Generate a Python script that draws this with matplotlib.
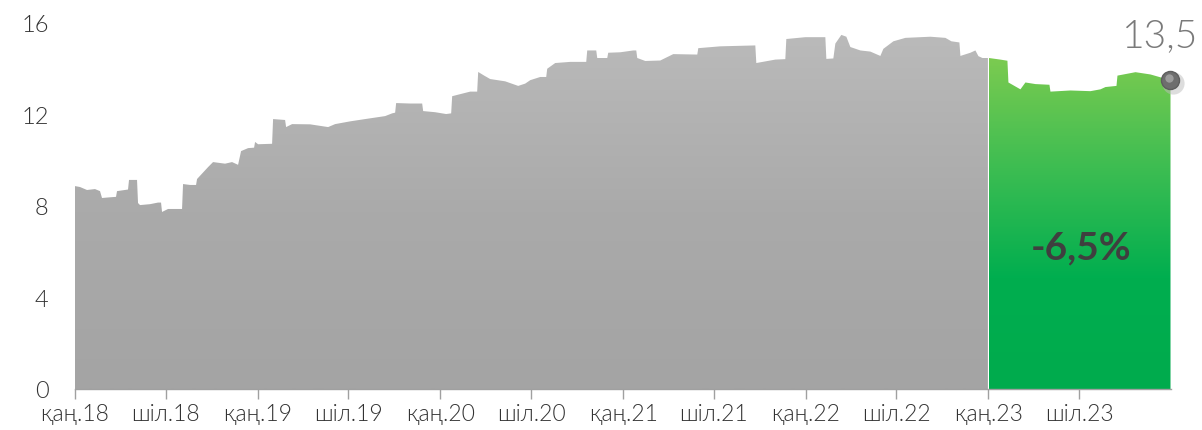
import numpy as np
import pandas as pd
import matplotlib
matplotlib.use("Agg")
import matplotlib.pyplot as plt
import matplotlib.dates as mdates
from matplotlib.colors import LinearSegmentedColormap
from matplotlib.transforms import offset_copy

# history up to end of 2022 (grey part)
dates_old = ['2018-01-01', '2018-01-11', '2018-01-25', '2018-02-10', '2018-02-20', '2018-02-24',
             '2018-03-12', '2018-03-24', '2018-03-26', '2018-04-17', '2018-04-19', '2018-05-05',
             '2018-05-07', '2018-05-11', '2018-05-31', '2018-06-16', '2018-06-22', '2018-06-24',
             '2018-07-06', '2018-08-03', '2018-08-05', '2018-08-19', '2018-08-31', '2018-09-02',
             '2018-09-24', '2018-10-04', '2018-10-28', '2018-11-11', '2018-11-23', '2018-11-29',
             '2018-12-13', '2018-12-25', '2018-12-27', '2019-01-02', '2019-01-30', '2019-02-01',
             '2019-02-25', '2019-02-27', '2019-03-11', '2019-04-16', '2019-05-22', '2019-06-05',
             '2019-07-05', '2019-08-04', '2019-09-13', '2019-09-27', '2019-10-03', '2019-10-05',
             '2019-11-02', '2019-11-26', '2019-11-28', '2019-12-22', '2020-01-13', '2020-01-23',
             '2020-01-25', '2020-03-01', '2020-03-15', '2020-03-17', '2020-03-29', '2020-04-10',
             '2020-05-10', '2020-06-05', '2020-06-19', '2020-06-29', '2020-07-19', '2020-07-31',
             '2020-08-02', '2020-08-18', '2020-09-17', '2020-10-19', '2020-10-21', '2020-11-08',
             '2020-11-10', '2020-11-30', '2020-12-02', '2020-12-26', '2021-01-21', '2021-01-27',
             '2021-01-29', '2021-02-14', '2021-03-16', '2021-04-11', '2021-05-29', '2021-05-31',
             '2021-07-14', '2021-09-22', '2021-09-24', '2021-11-01', '2021-11-21', '2021-11-23',
             '2021-12-31', '2022-02-09', '2022-02-11', '2022-02-25', '2022-03-01', '2022-03-13',
             '2022-03-23', '2022-03-31', '2022-04-20', '2022-05-10', '2022-05-30', '2022-06-05',
             '2022-06-25', '2022-07-19', '2022-09-07', '2022-10-07', '2022-10-19', '2022-11-04',
             '2022-11-06', '2022-11-26', '2022-12-06', '2022-12-12', '2022-12-20', '2022-12-31']
values_old = [8.87, 8.83, 8.70, 8.74, 8.65, 8.35,
              8.38, 8.40, 8.65, 8.72, 9.14, 9.14,
              8.13, 8.04, 8.08, 8.15, 8.15, 7.74,
              7.87, 7.87, 8.96, 8.92, 8.92, 9.18,
              9.70, 9.92, 9.85, 9.92, 9.80, 10.40,
              10.53, 10.55, 10.80, 10.70, 10.72, 11.80,
              11.76, 11.45, 11.58, 11.57, 11.45, 11.58,
              11.70, 11.80, 11.93, 12.05, 12.08, 12.50,
              12.48, 12.48, 12.15, 12.10, 12.02, 12.05,
              12.80, 13.00, 13.00, 13.86, 13.70, 13.55,
              13.45, 13.25, 13.35, 13.50, 13.64, 13.64,
              14.00, 14.25, 14.30, 14.30, 14.80, 14.80,
              14.47, 14.47, 14.70, 14.72, 14.80, 14.80,
              14.47, 14.34, 14.36, 14.64, 14.62, 14.90,
              14.98, 15.02, 14.25, 14.40, 14.42, 15.30,
              15.38, 15.38, 14.43, 14.45, 15.10, 15.48,
              15.40, 14.95, 14.80, 14.75, 14.56, 14.87,
              15.20, 15.35, 15.40, 15.35, 15.20, 15.15,
              14.56, 14.70, 14.80, 14.55, 14.47, 14.47]

# 2023 (green part)
dates_new = ['2023-01-02', '2023-01-25', '2023-02-08', '2023-02-10', '2023-02-18', '2023-03-06',
             '2023-03-16', '2023-04-05', '2023-05-03', '2023-05-05', '2023-06-14', '2023-07-24',
             '2023-08-13', '2023-08-23', '2023-09-14', '2023-09-16', '2023-10-22', '2023-11-21',
             '2023-12-15', '2023-12-31']
values_new = [14.47, 14.40, 14.35, 13.40, 13.30, 13.10,
              13.40, 13.33, 13.30, 13.00, 13.05, 13.02,
              13.10, 13.20, 13.25, 13.70, 13.85, 13.75,
              13.60, 13.50]

last_label = '13,5'
change_label = '-6,5%'

tick_dates = ['2018-01-01', '2018-07-01', '2019-01-01', '2019-07-01', '2020-01-01', '2020-07-01',
              '2021-01-01', '2021-07-01', '2022-01-01', '2022-07-01', '2023-01-01', '2023-07-01']
tick_labels = ['қаң.18', 'шіл.18', 'қаң.19', 'шіл.19', 'қаң.20', 'шіл.20',
               'қаң.21', 'шіл.21', 'қаң.22', 'шіл.22', 'қаң.23', 'шіл.23']

plt.rcParams['font.family'] = ['Lato', 'DejaVu Sans']

x_old = mdates.date2num(pd.to_datetime(dates_old))
x_new = mdates.date2num(pd.to_datetime(dates_new))
x_ticks = mdates.date2num(pd.to_datetime(tick_dates))
x_end = mdates.date2num(pd.Timestamp('2024-01-01'))

fig = plt.figure(figsize=(12.02, 4.31), dpi=100)
ax = fig.add_axes([75 / 1202, 41 / 431, (1171 - 75) / 1202, 366 / 431])

def gradient_fill(xs, ys, colors):
    # area with a vertical colour gradient clipped to it
    poly = ax.fill_between(xs, ys, 0, color='none', lw=0)
    cmap = LinearSegmentedColormap.from_list('g', colors)
    grad = np.linspace(0, 1, 256).reshape(-1, 1)
    im = ax.imshow(grad, cmap=cmap, aspect='auto', origin='upper',
                   extent=[xs[0], xs[-1], 0, max(ys)], zorder=1)
    im.set_clip_path(poly.get_paths()[0], transform=ax.transData)

gradient_fill(x_old, values_old, ['#bababa', '#aaaaaa', '#a4a4a4'])
gradient_fill(x_new, values_new, ['#7ccb50', '#3dbd52', '#00ae4f', '#00ab4d'])
ax.set_xlim(x_old[0], x_end)
ax.set_ylim(0, 16)

# end point ball
xe, ye = x_new[-1], values_new[-1]
ax.plot([xe], [ye], 'o', ms=16, color='#bdbdbd', alpha=0.5, zorder=3, mew=0,
        transform=offset_copy(ax.transData, fig=fig, x=1.5, y=-2.0, units='points'), clip_on=False)
ax.plot([xe], [ye], 'o', ms=13, color='#6e6e6e', mec='#5e5e5e', zorder=4, clip_on=False)
ax.plot([xe], [ye], 'o', ms=6, color='#a8a8a8', alpha=0.8, zorder=5, clip_on=False, mew=0,
        transform=offset_copy(ax.transData, fig=fig, x=-1.2, y=1.5, units='points'))

ax.annotate(last_label, (xe, ye), xytext=(20, 24.5), textcoords='offset points',
            ha='right', va='baseline', fontsize=28, color='#7a7a7a', fontweight=300,
            annotation_clip=False)
ax.text(mdates.date2num(pd.Timestamp('2023-07-05')), 6.2, change_label, ha='center', va='center',
        fontsize=28, fontweight='bold', color='#3f3f3f', zorder=6)

ax.set_yticks([0, 4, 8, 12, 16])
ax.set_xticks(x_ticks)
ax.set_xticklabels(tick_labels)
ax.tick_params(axis='y', length=0, pad=19, labelsize=17, labelcolor='#333333')
ax.tick_params(axis='x', length=7, width=1, color='#a0a0a0', pad=3, labelsize=16.5,
               labelcolor='#333333')
for lab in ax.get_xticklabels() + ax.get_yticklabels():
    lab.set_fontweight(300)

for s in ['top', 'right', 'left']:
    ax.spines[s].set_visible(False)
ax.spines['bottom'].set_color('#a0a0a0')
ax.spines['bottom'].set_linewidth(1)
ax.spines['bottom'].set_zorder(3)

fig.savefig('out.png', dpi=100)
